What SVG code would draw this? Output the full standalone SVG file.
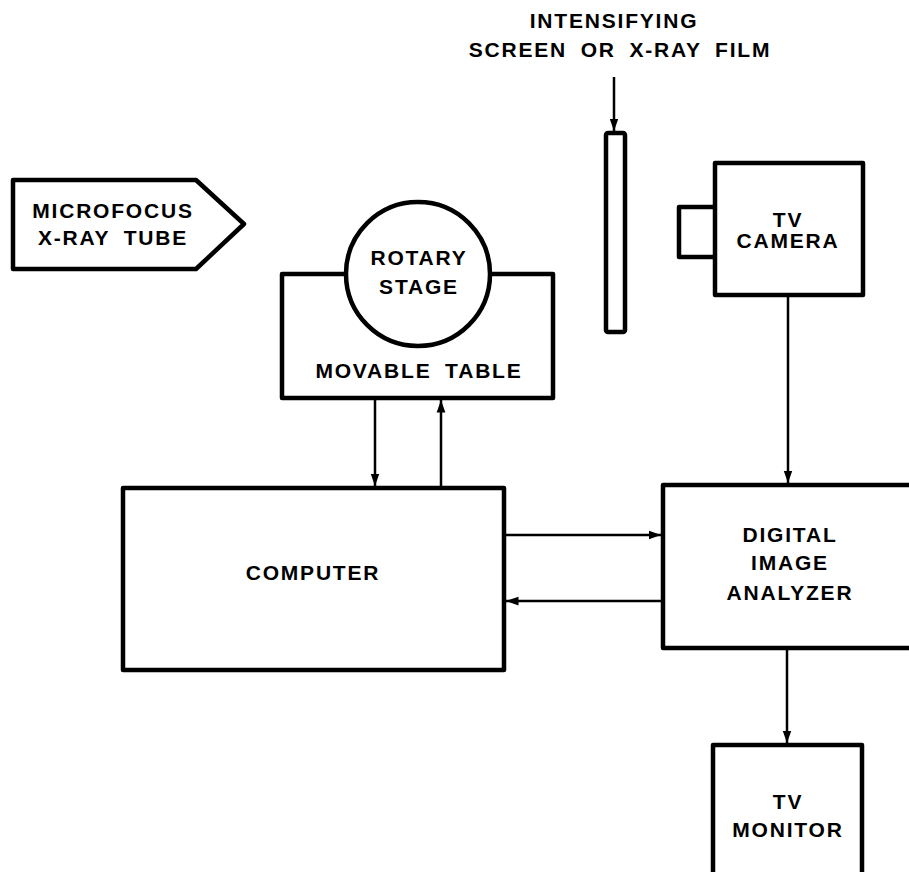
<svg xmlns="http://www.w3.org/2000/svg" width="909" height="872" viewBox="0 0 909 872">
<style>
.box{fill:#fff;stroke:#000;stroke-width:4.5;stroke-linejoin:round}
.ln{fill:none;stroke:#000;stroke-width:2.5}
text{font-family:"Liberation Sans",Arial,sans-serif;font-weight:bold;font-size:21px;fill:#000;text-anchor:middle;letter-spacing:1.8px;word-spacing:6px}
</style>
<defs>
<marker id="ah" viewBox="0 0 10 10" refX="10" refY="5" markerWidth="5" markerHeight="5" markerUnits="strokeWidth" orient="auto">
<path d="M0,1.5 L10,5 L0,8.5 Z" fill="#000"/>
</marker>
</defs>
<rect width="909" height="872" fill="#fff"/>
<g id="label-film">
<text x="614" y="28">INTENSIFYING</text>
<text x="620" y="57">SCREEN OR X-RAY FILM</text>
</g>
<g id="film">
<rect class="box" x="606" y="133" width="19" height="199" rx="2"/>
</g>
<g id="xray-tube">
<path class="box" d="M13,180 L196,180 L244,224 L196,269 L13,269 Z"/>
<text x="113" y="218">MICROFOCUS</text>
<text x="113" y="245">X-RAY TUBE</text>
</g>
<g id="movable-table">
<rect class="box" x="282" y="274" width="271" height="124"/>
<circle class="box" cx="418" cy="274" r="72"/>
<text x="419" y="265">ROTARY</text>
<text x="419" y="294">STAGE</text>
<text x="419" y="378">MOVABLE TABLE</text>
</g>
<g id="tv-camera">
<rect class="box" x="679" y="207" width="37" height="50"/>
<rect class="box" x="715" y="163" width="148" height="132"/>
<text x="788" y="227">TV</text>
<text x="788" y="248">CAMERA</text>
</g>
<g id="computer">
<rect class="box" x="123" y="488" width="381" height="182"/>
<text x="313" y="580">COMPUTER</text>
</g>
<g id="analyzer">
<rect class="box" x="663" y="485" width="250" height="163"/>
<text x="790" y="542">DIGITAL</text>
<text x="790" y="570">IMAGE</text>
<text x="790" y="600">ANALYZER</text>
</g>
<g id="tv-monitor">
<rect class="box" x="713" y="745" width="149" height="140"/>
<text x="788" y="809">TV</text>
<text x="788" y="837">MONITOR</text>
</g>
<g id="connectors">
<line class="ln" x1="614" y1="77" x2="614" y2="131" marker-end="url(#ah)"/>
<line class="ln" x1="375" y1="398" x2="375" y2="486" marker-end="url(#ah)"/>
<line class="ln" x1="441" y1="488" x2="441" y2="400" marker-end="url(#ah)"/>
<line class="ln" x1="504" y1="535" x2="661" y2="535" marker-end="url(#ah)"/>
<line class="ln" x1="663" y1="601" x2="506" y2="601" marker-end="url(#ah)"/>
<line class="ln" x1="788" y1="295" x2="788" y2="483" marker-end="url(#ah)"/>
<line class="ln" x1="787" y1="648" x2="787" y2="743" marker-end="url(#ah)"/>
</g>
</svg>
